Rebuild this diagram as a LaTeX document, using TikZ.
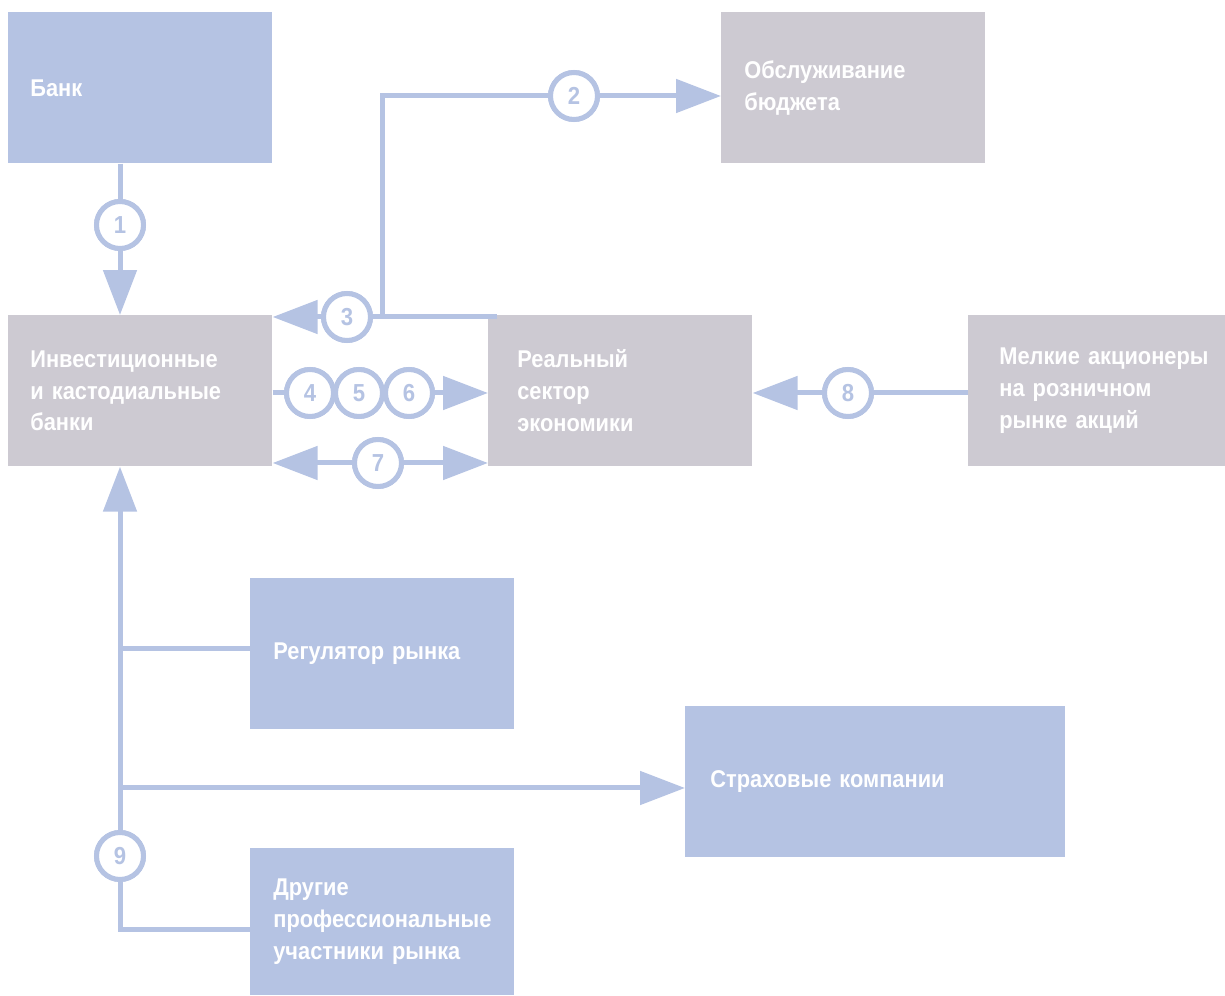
\documentclass[tikz,border=0pt]{standalone}
\usepackage{fontspec}
\setmainfont{Liberation Sans}[FakeStretch=0.9]
\usetikzlibrary{arrows.meta}
\definecolor{flowblue}{RGB}{181,195,227}
\definecolor{flowgrey}{RGB}{205,202,210}

\begin{document}
\begin{tikzpicture}[x=0.02cm, y=-0.02cm,
    box/.style 2 args={anchor=north west, inner sep=0pt, inner xsep=#2, minimum height=3.02cm,
        text width=#1, align=left, text=white, font=\bfseries\fontsize{13.8}{18.1}\selectfont},
    num/.style={circle, draw=flowblue, line width=0.1cm, fill=white, minimum size=0.94cm,
        inner sep=0pt, text=flowblue, font=\bfseries\fontsize{14}{14}\selectfont},
    wire/.style={draw=flowblue, line width=0.1cm},
    arr/.style={wire, -{Triangle[length=0.9cm, width=0.66cm]}},
    darr/.style={wire, {Triangle[length=0.9cm, width=0.66cm]}-{Triangle[length=0.9cm, width=0.66cm]}}]
\useasboundingbox (0,0) rectangle (1225,996);

% boxes
\node[box={4.4cm}{0.44cm}, fill=flowblue] (bank) at (8,12) {Банк};
\node[box={4.36cm}{0.46cm}, fill=flowgrey] (budget) at (721,12) {Обслуживание\\бюджета};
\node[box={4.4cm}{0.44cm}, fill=flowgrey] (invest) at (8,315) {Инвестиционные\\и кастодиальные\\банки};
\node[box={4.12cm}{0.58cm}, fill=flowgrey] (real) at (488,315) {Реальный\\сектор\\экономики};
\node[box={4.56cm}{0.62cm}, fill=flowgrey] (small) at (968,315) {Мелкие акционеры\\на розничном\\рынке акций};
\node[box={4.36cm}{0.46cm}, fill=flowblue] (regul) at (250,578) {Регулятор рынка};
\node[box={6.6cm}{0.5cm}, fill=flowblue] (insur) at (685,706) {Страховые компании};
\node[box={4.36cm}{0.46cm}, fill=flowblue, minimum height=2.94cm] (other) at (250,848) {Другие\\профессиональные\\участники рынка};

% numbered circles
\node[num] (c1) at (120,225) {1};
\node[num] (c2) at (574,96) {2};
\node[num] (c3) at (347,317) {3};
\node[num] (c4) at (310,393) {4};
\node[num] (c5) at (359,393) {5};
\node[num] (c6) at (409,393) {6};
\node[num] (c7) at (378,463) {7};
\node[num] (c8) at (848,393) {8};
\node[num] (c9) at (120,856) {9};

\coordinate (j3) at (382,317);
\coordinate (b1) at (120,649);
\coordinate (b2) at (120,788);
\coordinate (b3) at (120,930);

% connectors
\draw[wire] (c1 |- bank.south) -- (c1.north);
\draw[arr] (c1.south) -- (c1 |- invest.north);
\draw[wire] (j3) |- (c2.west);
\draw[arr] (c2.east) -- (c2 -| budget.west);
\draw[wire] ([xshift=0.18cm]c3 -| real.west) -- (c3.east);
\draw[arr] (c3.west) -- (c3 -| invest.east);
\draw[wire] (c4 -| invest.east) -- (c4.west);
\draw[arr] (c6.east) -- (c6 -| real.west);
\draw[arr] (c7.west) -- (c7 -| invest.east);
\draw[arr] (c7.east) -- (c7 -| real.west);
\draw[wire] (c8 -| small.west) -- (c8.east);
\draw[arr] (c8.west) -- (c8 -| real.east);
\draw[arr] (c9.north) -- (c9 |- invest.south);
\draw[wire] (c9.south) -- (b3) -- (b3 -| other.west);
\draw[wire] (b1) -- (b1 -| regul.west);
\draw[arr] (b2) -- (b2 -| insur.west);

% redraw circles on top
\foreach \c in {1,...,9} {
    \node[num] at (c\c) {\c};
}
\end{tikzpicture}
\end{document}
